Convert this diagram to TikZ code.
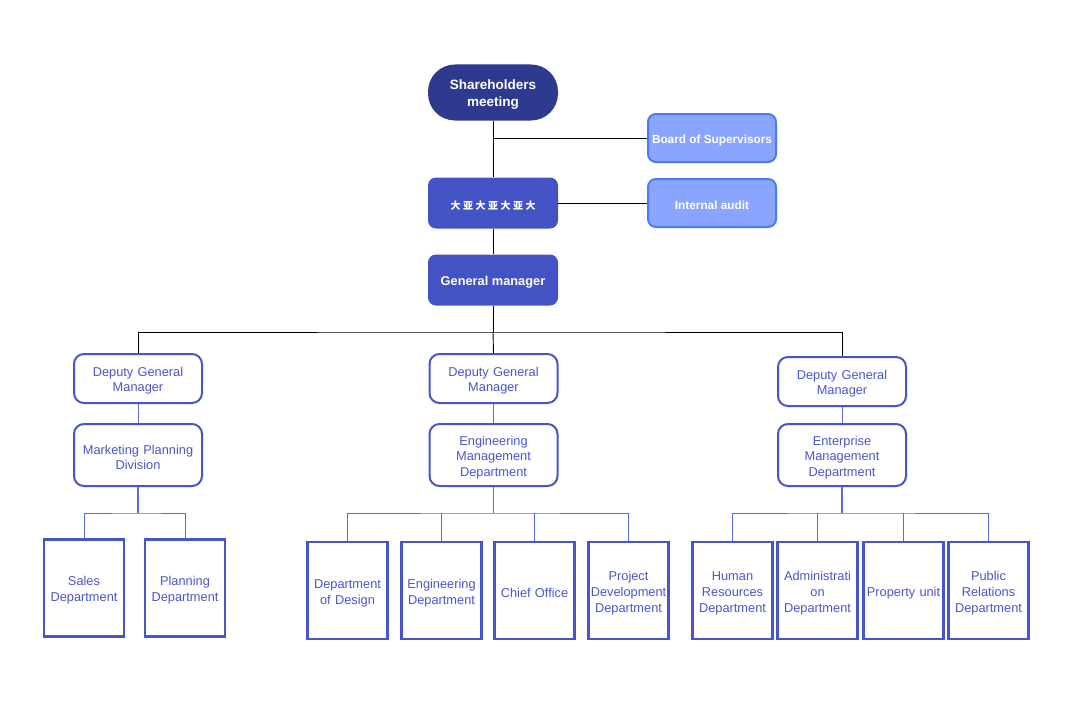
\documentclass[tikz,border=0pt]{standalone}
\usepackage{fontspec}
\setmainfont{Liberation Sans}
\newfontfamily\cjkfont{Noto Sans CJK SC}
\definecolor{navy}{HTML}{2E3A8E}
\definecolor{royal}{HTML}{4353C6}
\definecolor{light}{HTML}{8AA5FF}
\definecolor{lightedge}{HTML}{4A7BF5}
\definecolor{edgeblue}{HTML}{4655C8}
\definecolor{txtblue}{HTML}{4A56CC}
\definecolor{lineblue}{HTML}{5C69D6}
\tikzset{
  base/.style={align=center, inner sep=1pt, font=\fontsize{12.8}{15.5}\selectfont, execute at begin node={\rule{0pt}{1.1em}}},
  topbox/.style={base, fill=royal, draw=none, rounded corners=8pt, minimum width=130pt, minimum height=51pt, text=white, font=\fontsize{12.8}{17}\selectfont\bfseries},
  sidebox/.style={base, fill=light, draw=lightedge, line width=2pt, rounded corners=8pt, minimum width=128pt, minimum height=48pt, text=white, font=\fontsize{11.8}{15}\selectfont\bfseries},
  midbox/.style={base, fill=white, draw=edgeblue, line width=2pt, rounded corners=10pt, minimum width=128pt, text width=124pt, text=txtblue},
  leaf/.style={base, fill=white, draw=edgeblue, line width=2.5pt, minimum width=80pt, minimum height=97pt, text=txtblue, text width=76pt, font=\fontsize{12.8}{16}\selectfont},
  blk/.style={draw=black, line width=0.9pt},
  bl/.style={draw=lineblue, line width=1pt},
}
\begin{document}
\begin{tikzpicture}[x=1pt,y=-1pt]
\useasboundingbox (0,0) rectangle (1070,709);
% top
\node[base, fill=navy, rounded corners=27pt, minimum width=130pt, minimum height=56pt, text width=126pt, text=white, font=\fontsize{13.5}{17}\selectfont\bfseries] (sh) at (493,92.5) {Shareholders\\meeting};
\node[topbox] (bd) at (493,203) {\cjkfont\fontsize{10}{12}\selectfont 大\hspace{2.5pt}亚\hspace{2.5pt}大\hspace{2.5pt}亚\hspace{2.5pt}大\hspace{2.5pt}亚\hspace{2.5pt}大};
\node[topbox] (gm) at (493,280) {General manager};
\node[sidebox] (sup) at (712,138) {Board of Supervisors};
\node[sidebox] (aud) at (712,203) {Internal audit};
% deputies
\node[midbox, minimum height=49pt] (d1) at (138,378.5) {Deputy General\\Manager};
\node[midbox, minimum height=49pt] (d2) at (493.5,378.5) {Deputy General\\Manager};
\node[midbox, minimum height=49pt] (d3) at (842,381.5) {Deputy General\\Manager};
\node[midbox, minimum height=62pt] (m1) at (138,455) {Marketing Planning\\Division};
\node[midbox, minimum height=62pt] (m2) at (493.5,455) {Engineering\\Management\\Department};
\node[midbox, minimum height=62pt] (m3) at (842,455) {Enterprise\\Management\\Department};
% leaves
\node[leaf] (sales) at (84,588) {Sales\\Department};
\node[leaf] (plan) at (185,588) {Planning\\Department};
\node[leaf] (des) at (347.5,590.5) {Department\\of Design};
\node[leaf] (eng) at (441.5,590.5) {Engineering\\Department};
\node[leaf] (chief) at (534.5,590.5) {Chief Office};
\node[leaf] (proj) at (628.5,590.5) {Project\\Development\\Department};
\node[leaf] (hr) at (732.5,590.5) {Human\\Resources\\Department};
\node[leaf] (adm) at (817.5,590.5) {Administrati\\on\\Department};
\node[leaf] (prop) at (903.5,590.5) {Property unit};
\node[leaf] (pr) at (988.5,590.5) {Public\\Relations\\Department};
% connectors top
\draw[blk] (sh.south) -- (bd.north);
\draw[blk] (sh.south |- sup.west) -- (sup.west);
\draw[blk] (bd.east) -- (aud.west);
\draw[blk] (bd.south) -- (gm.north);
\coordinate (busT) at (493,332);
\draw[blk] (gm.south) -- (busT);
\draw[blk] (d1.north) |- (busT) -| (d3.north);
\draw[blk] (busT) -- (d2.north);
% deputy to mid
\draw[bl] (d1.south) -- (m1.north);
\draw[bl] (d2.south) -- (m2.north);
\draw[bl] (d3.south) -- (m3.north);
% buses
\coordinate (busL) at (138,513);
\coordinate (busC) at (493.5,513);
\coordinate (busR) at (842,513);
\draw[bl, line width=1.5pt] (m1.south) -- (busL);
\draw[bl] (sales.north) |- (busL) -| (plan.north);
\draw[bl, line width=1.5pt] (m2.south) -- (busC);
\draw[bl] (des.north) |- (busC) -| (proj.north);
\draw[bl] (eng.north) -- (eng.north |- busC);
\draw[bl] (chief.north) -- (chief.north |- busC);
\draw[bl, line width=1.5pt] (m3.south) -- (busR);
\draw[bl] (hr.north) |- (busR) -| (pr.north);
\draw[bl] (adm.north) -- (adm.north |- busR);
\draw[bl] (prop.north) -- (prop.north |- busR);
\end{tikzpicture}
\end{document}
